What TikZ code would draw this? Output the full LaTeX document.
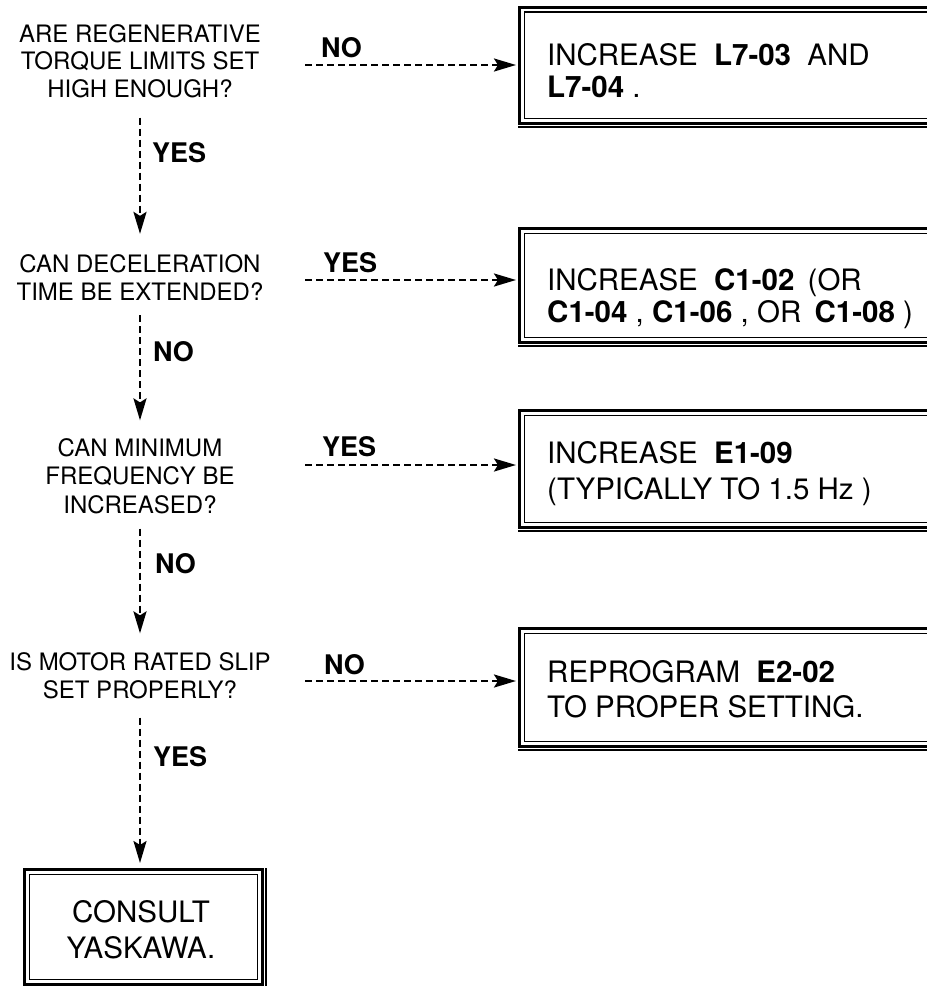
\documentclass[tikz,border=0pt]{standalone}
\usepackage{fontspec}
\setmainfont{TeX Gyre Heros}
\usetikzlibrary{arrows.meta,calc}
\newcommand\dframe[1]{%
  \draw[line width=1.1pt] ([shift={(6.5,-6.5)}]#1.north west) rectangle ([shift={(-6.5,6.5)}]#1.south east);
  \draw[line width=2pt] ([shift={(0,-1.5)}]#1.south west) -- ([shift={(1.5,-1.5)}]#1.south east) -- ([shift={(1.5,0)}]#1.north east);}
\begin{document}
\begin{tikzpicture}[x=1pt,y=1pt,
  q/.style={align=center, inner sep=0pt, anchor=base, font=\fontsize{24}{28}\selectfont},
  lab/.style={inner sep=0pt, anchor=base west, font=\fontsize{27}{28}\selectfont\bfseries},
  frame/.style={draw, line width=3pt, rectangle, inner sep=0pt, anchor=north west},
  btxt/.style={inner sep=0pt, anchor=base west, align=left},
  arr/.style={line width=2.4pt, dash pattern=on 7pt off 4pt, -{Stealth[length=22pt,width=13pt,inset=4pt]}},
]
\useasboundingbox (0,0) rectangle (927,-986);

% questions (anchored at the baseline of their last line)
\node[q, font=\fontsize{24}{27.5}\selectfont] (q1) at (140,-97) {ARE REGENERATIVE\\TORQUE LIMITS SET\\HIGH ENOUGH?};
\node[q] (q2) at (140,-300) {CAN DECELERATION\\TIME BE EXTENDED?};
\node[q, font=\fontsize{24}{28.5}\selectfont] (q3) at (140,-513) {CAN MINIMUM\\FREQUENCY BE\\INCREASED?};
\node[q] (q4) at (140,-698) {IS MOTOR RATED SLIP\\SET PROPERLY?};

% boxes
\node[frame, minimum width=422, minimum height=116.5] (b1) at (518,-5.5) {};
\node[frame, minimum width=422, minimum height=114] (b2) at (518,-227) {};
\node[frame, minimum width=422, minimum height=117] (b3) at (518,-409) {};
\node[frame, minimum width=422, minimum height=118] (b4) at (518,-627) {};
\node[frame, minimum width=238, minimum height=115] (b5) at (23,-868) {};
\dframe{b1}\dframe{b2}\dframe{b3}\dframe{b4}\dframe{b5}

% box texts (anchored at the baseline of their last line)
\node[btxt, font=\fontsize{29.5}{32}\selectfont] (t1) at (547,-97)
  {INCREASE\hspace{0.55em}\textbf{L7-03}\hspace{0.55em}AND\\\textbf{L7-04} .};
\node[btxt, font=\fontsize{29.5}{32}\selectfont] (t2) at (547,-322)
  {INCREASE\hspace{0.55em}\textbf{C1-02}\hspace{0.45em}(OR\\\textbf{C1-04} , \textbf{C1-06} , OR\hspace{0.45em}\textbf{C1-08} )};
\node[btxt, font=\fontsize{29.5}{36}\selectfont] (t3) at (547,-499)
  {INCREASE\hspace{0.55em}\textbf{E1-09}\\(TYPICALLY TO 1.5 Hz )};
\node[btxt, font=\fontsize{29.5}{35}\selectfont] (t4) at (547,-717)
  {REPROGRAM\hspace{0.55em}\textbf{E2-02}\\TO PROPER SETTING.};
\node[btxt, anchor=base, align=center, font=\fontsize{29.5}{36}\selectfont] (t5) at (141,-958)
  {CONSULT\\YASKAWA.};

% labels
\node[lab] (l1) at (152,-162) {YES};
\node[lab] (l2) at (153,-361) {NO};
\node[lab] (l3) at (155,-573) {NO};
\node[lab] (l4) at (153,-766) {YES};
\node[lab] (h1) at (321,-57) {NO};
\node[lab] (h2) at (323,-272) {YES};
\node[lab] (h3) at (322,-456) {YES};
\node[lab] (h4) at (324,-674) {NO};

% vertical arrows
\draw[arr] ([yshift=-20]q1.south) -- ([yshift=20]q2.north);
\draw[arr] ([yshift=-15]q2.south) -- ([yshift=17.5]q3.north);
\draw[arr] ([yshift=-15]q3.south) -- ([yshift=18.5]q4.north);
\draw[arr] ([yshift=-19]q4.south) -- ([yshift=5]q4.south |- b5.north);

% horizontal arrows
\coordinate (s1) at (305,-65);
\coordinate (s2) at (305,-280);
\coordinate (s3) at (305,-465);
\coordinate (s4) at (305,-681);
\draw[arr, shorten >=2pt] (s1) -- (b1.west |- s1);
\draw[arr, shorten >=2pt] (s2) -- (b2.west |- s2);
\draw[arr, shorten >=2pt] (s3) -- (b3.west |- s3);
\draw[arr, shorten >=2pt] (s4) -- (b4.west |- s4);
\end{tikzpicture}
\end{document}
